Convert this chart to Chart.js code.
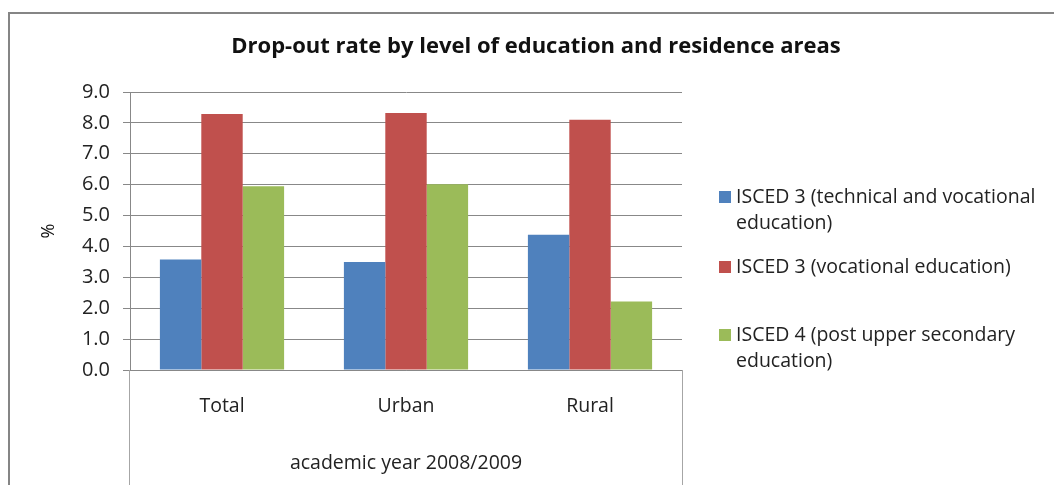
<!DOCTYPE html>
<html>
<head>
<meta charset="utf-8">
<script src="https://cdn.jsdelivr.net/npm/chart.js@4/dist/chart.umd.min.js"></script>
<style>
  html, body { margin: 0; padding: 0; background: #fff; }
  #wrap { width: 1054px; height: 485px; position: relative; }
</style>
</head>
<body>
<div id="wrap"><canvas id="grafico" width="1054" height="485"></canvas></div>
<script>
// Datos del gráfico
const categorias = ["Total", "Urban", "Rural"];
const tecnicaVocacional = [3.58, 3.5, 4.38];
const vocacional = [8.29, 8.32, 8.1];
const postSecundaria = [5.95, 6.01, 2.22];
const nombresSeries = [
  "ISCED 3 (technical and vocational education)",
  "ISCED 3 (vocational education)",
  "ISCED 4 (post upper secondary education)"
];
const titulo = "Drop-out rate by level of education and residence areas";
const etiquetaGrupo = "academic year 2008/2009";
const ticksY = [0, 1, 2, 3, 4, 5, 6, 7, 8, 9];

const FUENTE = "'Open Sans', Lato, sans-serif";
const GRIS = "#888888";

// Marco exterior, título, líneas de la tabla bajo el eje y leyenda con texto envuelto
const extras = {
  id: "extras",
  afterDraw(chart) {
    const { ctx, chartArea } = chart;
    ctx.save();
    // marco
    ctx.strokeStyle = "#858585";
    ctx.lineWidth = 2;
    ctx.beginPath();
    ctx.moveTo(9, 485);
    ctx.lineTo(9, 13);
    ctx.lineTo(1054, 13);
    ctx.stroke();

    // título
    ctx.fillStyle = "#111";
    ctx.font = "bold 22px " + FUENTE;
    ctx.textAlign = "center";
    ctx.textBaseline = "middle";
    ctx.fillText(titulo, 536, 47);

    // líneas verticales bajo el eje
    ctx.strokeStyle = "#a6a6a6";
    ctx.lineWidth = 1;
    ctx.beginPath();
    ctx.moveTo(Math.round(chartArea.left) - 0.5, chartArea.bottom);
    ctx.lineTo(Math.round(chartArea.left) - 0.5, 485);
    ctx.moveTo(Math.round(chartArea.right) + 0.5, chartArea.bottom);
    ctx.lineTo(Math.round(chartArea.right) + 0.5, 485);
    ctx.stroke();

    // etiqueta del grupo
    ctx.fillStyle = "#222";
    ctx.font = "19.5px " + FUENTE;
    ctx.fillText(etiquetaGrupo, (chartArea.left + chartArea.right) / 2, 463);

    // leyenda
    ctx.textAlign = "left";
    const x0 = 719, anchoMax = 310, alto = 26;
    const inicios = [197, 267, 335];
    chart.data.datasets.forEach((ds, i) => {
      const palabras = ds.label.split(" ");
      const lineas = [];
      let actual = "";
      palabras.forEach((p) => {
        const prueba = actual ? actual + " " + p : p;
        if (ctx.measureText(prueba).width > anchoMax && actual) {
          lineas.push(actual);
          actual = p;
        } else {
          actual = prueba;
        }
      });
      lineas.push(actual);
      ctx.fillStyle = ds.backgroundColor;
      ctx.fillRect(x0, inicios[i] - 6, 12, 12);
      ctx.fillStyle = "#222";
      lineas.forEach((l, j) => ctx.fillText(l, x0 + 17, inicios[i] + j * alto));
    });
    ctx.restore();
  }
};

const ctx = document.getElementById("grafico").getContext("2d");
new Chart(ctx, {
  type: "bar",
  data: {
    labels: categorias,
    datasets: [
      { label: nombresSeries[0], data: tecnicaVocacional, backgroundColor: "#4F81BD" },
      { label: nombresSeries[1], data: vocacional, backgroundColor: "#C0504D" },
      { label: nombresSeries[2], data: postSecundaria, backgroundColor: "#9BBB59" }
    ]
  },
  options: {
    responsive: false,
    animation: false,
    devicePixelRatio: 1,
    categoryPercentage: 0.675,
    barPercentage: 1,
    layout: { padding: { left: 8, right: 372, top: 92, bottom: 0 } },
    plugins: {
      legend: { display: false },
      tooltip: { enabled: false },
      title: { display: false }
    },
    scales: {
      x: {
        grid: { display: false, drawTicks: false },
        border: { display: true, color: GRIS },
        ticks: { color: "#222", padding: 25, maxRotation: 0, font: { family: FUENTE, size: 19.5 } },
        afterFit: (s) => { s.height = 115; }
      },
      y: {
        min: 0,
        max: 9,
        afterBuildTicks: (s) => { s.ticks = ticksY.map((v) => ({ value: v })); },
        grid: { color: GRIS, tickLength: 7 },
        border: { display: true, color: GRIS },
        ticks: {
          color: "#222",
          padding: 13,
          font: { family: FUENTE, size: 20 },
          callback: (v) => Number(v).toFixed(1)
        },
        title: {
          display: true,
          text: "%",
          color: "#111",
          padding: { top: 30, bottom: 0 },
          font: { family: FUENTE, size: 18 }
        },
        afterFit: (s) => { s.width = 122; }
      }
    }
  },
  plugins: [extras]
});
</script>
</body>
</html>
